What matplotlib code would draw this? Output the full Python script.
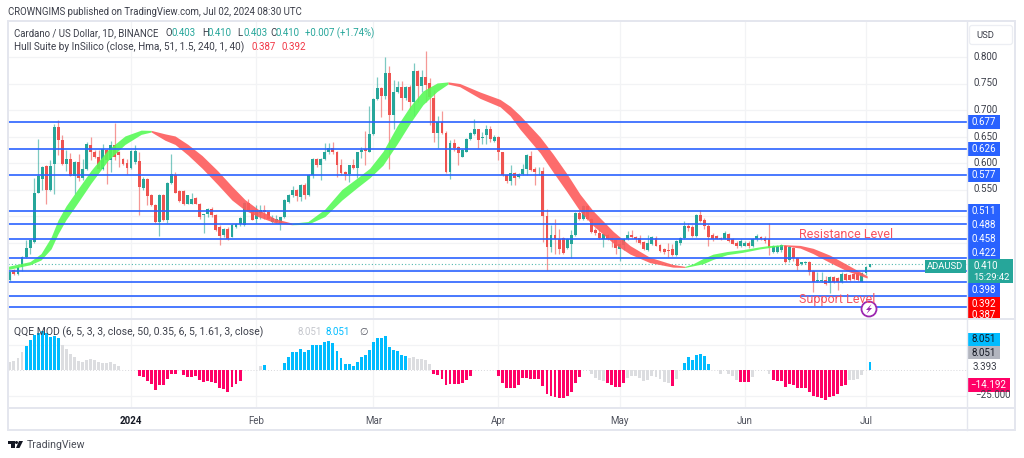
import numpy as np
import matplotlib.pyplot as plt
from matplotlib.patches import Rectangle, FancyBboxPatch, Circle, Polygon

plt.rcParams['font.family'] = ['Roboto', 'DejaVu Sans']

# --- data: daily candles, first bar is 2 Dec 2023 ---
opens = [.380,.398,.391,.404,.423,.439,.451,.544,.569,.594,
         .549,.599,.668,.643,.599,.607,.576,.602,.571,.588,
         .634,.621,.612,.588,.625,.605,.634,.621,.607,.600,
         .590,.601,.604,.552,.569,.539,.520,.489,.539,.492,
         .562,.577,.547,.547,.523,.523,.534,.523,.501,.503,
         .514,.502,.480,.464,.476,.461,.479,.485,.483,.525,
         .511,.495,.505,.512,.508,.489,.489,.486,.498,.527,
         .539,.549,.535,.558,.539,.577,.608,.596,.608,.621,
         .629,.621,.596,.583,.580,.596,.590,.620,.627,.621,
         .654,.720,.742,.727,.770,.691,.734,.744,.722,.744,
         .715,.774,.745,.763,.750,.722,.657,.678,.657,.583,
         .637,.630,.612,.621,.645,.654,.664,.647,.652,.664,
         .642,.649,.620,.578,.566,.581,.573,.580,.588,.613,
         .588,.584,.585,.500,.442,.464,.457,.459,.440,.448,
         .464,.506,.495,.518,.495,.473,.468,.457,.464,.459,
         .454,.437,.445,.456,.465,.461,.459,.451,.435,.448,
         .459,.445,.437,.435,.437,.427,.449,.459,.481,.480,
         .463,.502,.493,.481,.465,.462,.459,.457,.466,.456,
         .449,.444,.444,.449,.443,.456,.460,.459,.456,.433,
         .433,.436,.444,.417,.439,.421,.409,.411,.414,.397,
         .378,.378,.380,.373,.384,.383,.376,.390,.389,.390,
         .392,.376,.392,.403]
highs = [.396,.400,.405,.425,.454,.455,.571,.646,.594,.596,
         .605,.674,.681,.653,.625,.618,.603,.617,.608,.640,
         .649,.624,.625,.635,.627,.642,.676,.623,.610,.607,
         .625,.634,.621,.574,.571,.541,.523,.542,.542,.564,
         .617,.583,.550,.549,.539,.544,.536,.524,.503,.515,
         .517,.504,.483,.477,.479,.484,.486,.498,.527,.533,
         .512,.520,.520,.521,.509,.502,.502,.499,.533,.542,
         .556,.551,.561,.563,.580,.609,.609,.609,.638,.638,
         .640,.622,.607,.585,.597,.608,.621,.630,.660,.707,
         .722,.763,.744,.800,.783,.756,.754,.754,.746,.747,
         .788,.776,.776,.811,.760,.738,.688,.698,.660,.643,
         .646,.633,.626,.647,.658,.683,.665,.658,.671,.669,
         .652,.651,.621,.580,.596,.583,.581,.598,.617,.623,
         .592,.592,.592,.514,.483,.495,.476,.461,.459,.473,
         .508,.510,.520,.520,.497,.478,.475,.468,.466,.461,
         .456,.454,.458,.472,.473,.463,.464,.453,.465,.463,
         .462,.447,.439,.449,.447,.455,.461,.490,.486,.483,
         .503,.511,.496,.484,.468,.465,.461,.471,.468,.459,
         .452,.456,.453,.453,.459,.466,.463,.462,.487,.445,
         .445,.447,.446,.444,.442,.423,.414,.415,.415,.399,
         .394,.394,.386,.386,.386,.384,.394,.392,.391,.392,
         .394,.394,.406,.410]
lows = [.378,.388,.389,.397,.420,.429,.449,.543,.549,.522,
        .547,.542,.615,.596,.585,.575,.542,.566,.568,.586,
        .605,.609,.587,.586,.561,.583,.605,.593,.597,.579,
        .588,.598,.502,.549,.520,.518,.486,.462,.491,.486,
        .561,.543,.527,.521,.522,.522,.522,.495,.468,.499,
        .499,.472,.445,.461,.455,.460,.478,.481,.482,.510,
        .492,.486,.495,.494,.494,.487,.486,.474,.497,.525,
        .536,.529,.529,.533,.537,.571,.593,.568,.606,.617,
        .617,.574,.577,.567,.565,.589,.571,.609,.596,.620,
        .653,.719,.686,.721,.588,.665,.733,.700,.719,.700,
        .688,.715,.734,.715,.671,.640,.629,.655,.582,.569,
        .622,.597,.611,.620,.643,.653,.629,.635,.635,.640,
        .640,.605,.575,.563,.558,.558,.571,.578,.577,.585,
        .558,.577,.451,.398,.432,.429,.428,.428,.438,.420,
        .462,.492,.493,.493,.467,.464,.457,.442,.455,.442,
        .429,.415,.435,.454,.458,.451,.448,.436,.434,.445,
        .443,.432,.429,.423,.425,.424,.446,.456,.471,.461,
        .461,.488,.476,.443,.453,.456,.455,.456,.451,.447,
        .440,.441,.443,.440,.441,.453,.454,.450,.427,.430,
        .430,.432,.411,.414,.416,.399,.408,.409,.389,.356,
        .376,.376,.370,.354,.373,.360,.373,.378,.378,.379,
        .378,.375,.388,.403]
closes = [.395,.390,.404,.423,.440,.454,.544,.576,.593,.549,
          .594,.668,.643,.599,.607,.576,.602,.571,.588,.635,
          .621,.612,.588,.627,.605,.634,.612,.615,.599,.590,
          .622,.622,.555,.569,.537,.520,.489,.539,.492,.562,
          .580,.544,.528,.522,.539,.533,.523,.498,.503,.514,
          .502,.473,.462,.476,.457,.483,.485,.497,.525,.511,
          .493,.511,.512,.508,.495,.497,.495,.498,.531,.539,
          .549,.537,.558,.539,.577,.608,.596,.608,.621,.629,
          .621,.596,.581,.580,.596,.590,.620,.624,.622,.654,
          .720,.742,.727,.770,.691,.734,.744,.722,.744,.715,
          .774,.745,.763,.748,.725,.657,.678,.657,.583,.637,
          .629,.618,.624,.645,.656,.664,.644,.649,.665,.645,
          .649,.621,.578,.566,.581,.571,.580,.588,.615,.586,
          .583,.584,.500,.442,.465,.457,.438,.430,.457,.465,
          .506,.495,.518,.495,.470,.467,.459,.466,.456,.454,
          .439,.448,.456,.465,.461,.456,.449,.437,.449,.461,
          .444,.434,.432,.434,.426,.453,.459,.481,.478,.463,
          .502,.490,.481,.461,.457,.457,.456,.468,.453,.448,
          .443,.453,.449,.444,.457,.462,.457,.453,.440,.444,
          .444,.446,.414,.441,.421,.405,.413,.414,.395,.375,
          .380,.380,.372,.384,.375,.376,.390,.380,.380,.381,
          .380,.392,.403,.410]

# Hull band, read at turning points and along the slopes
hull_days = [-0.5,5,7.7,10.2,11.9,13.9,16.1,20.1,24.3,28.5,32.5,35,
             38.4,40.9,44.1,47.6,51.5,55,58.2,61.4,65.7,69.9,
             73.8,78,82.2,85.9,89.1,92.4,95.9,99.1,102.3,105.8,108.5,
             111.4,116.4,121.4,123.9,126.3,131.3,134.5,138,141.2,144.4,149.4,153.6,158.5,164.2,167.2,
             169.2,171.7,174.1,177.6,181.5,185.8,187.7,191.5,
             195.7,198.9,203.1,207.4,212.3]
hull_mid = [.402,.411,.423,.449,.479,.506,.530,.574,.615,.643,.658,.660,
            .649,.643,.625,.602,.572,.543,.521,.506,.491,.485,
            .487,.506,.540,.562,.581,.609,.653,.691,.723,.743,.751,
            .747,.728,.713,.698,.677,.634,.600,.562,.525,.496,.460,.436,.417,.406,.404,
            .408,.415,.423,.430,.434,.440,.442,.445,
            .442,.434,.419,.402,.385]
hull_gap = [.006,.006,.012,.022,.026,.026,.026,.024,.020,.016,.008,.003,
            .012,.016,.020,.024,.026,.026,.020,.014,.008,.003,
            .005,.014,.020,.018,.018,.026,.034,.032,.026,.016,.004,
            .006,.012,.014,.018,.026,.030,.034,.034,.032,.028,.022,.016,.010,.005,.002,
            .004,.010,.010,.006,.005,.004,.004,.002,
            .005,.010,.014,.012,.004]
hull_turns = [-0.5, 35, 69.9, 108.5, 167.2, 191.5, 212.3]

levels = [.677,.626,.577,.510,.485,.457,.421,.397,.375,.349,.328]
price_ticks = [.800,.750,.700,.650,.600,.550]
price_grid = [.80,.75,.70,.65,.60,.55,.50,.45,.40,.35]
last_price = 0.410

# QQE histogram, one value per candle, 0 where nothing is drawn
qqe_vals = [7.5,9,12,18,24,29,34,36,38,36,
            32,33,31,25,21,16,13,9,8,10,
            11,10,7.5,6.5,7,8,6,4,0,0,
            0,0,-6,-7,-11,-14,-20,-15,-15,-9,
            -4,-3.5,0,-5,-6.5,-6.5,-6,-10,-12,-10.5,
            -12,-13,-18,-19,-22,-17,-14,-10.5,0,0,
            0,0,4,5,0,0,0,0,6.5,13,
            18,18,21,18,20,24.5,24.5,25,27,28.5,
            26,19,12,6,6,4,8,12.5,15,20,
            27,31.5,31.5,33,23,19.5,19,14.5,14,12,
            12.5,11,11,9.5,6,-3.5,-4.5,-8.5,-15,-14,
            -13.5,-13.5,-13,-9.5,-5.5,0,0,0,0,0,
            0,-5.5,-12.5,-17.5,-18,-18,-15,-8,-8,-8.5,
            -8.5,-8.5,-16,-24,-25,-26,-27.5,-27.5,-25,-21.5,
            -13,-7,0,0,-4,-8,-10,-10.5,-13,-14.5,
            -17,-17,-13,-8,-5.5,-6,-8,-11,-9.5,-5.5,
            -7,-8.5,-12,-13,-16,-9,0,7,13,9.5,
            15,15.5,13.5,6,0,0,-4,0,-4,-6,
            -10,-12,-12,-12,-6.5,0,0,0,-3.5,-10,
            -10.5,-11,-17,-14,-15,-18,-18,-18,-21.5,-25,
            -26,-27.5,-29.5,-26.5,-25,-24,-16,-15,-10,-10,
            -9,-5,0,8.051]
qqe_gray = list(range(0,4)) + list(range(13,28)) + [62] + list(range(99,105)) + \
           list(range(144,148)) + list(range(153,164)) + [165,176,178,179,180,184,188] + \
           list(range(208,212))

month_days = [30,61,90,121,151,182,212]
month_names = ['2024','Feb','Mar','Apr','May','Jun','Jul']

# --- figure, everything laid out in pixels of the 1024x458 image ---
W, H = 1024, 458
TEAL, RED = '#26a69a', '#ef5350'
fig = plt.figure(figsize=(W/100, H/100), dpi=100, facecolor='white')

def axes_px(x0, y0, x1, y1):
    a = fig.add_axes([x0/W, 1-y1/H, (x1-x0)/W, (y1-y0)/H])
    a.patch.set_alpha(0)
    return a

ax = axes_px(8, 21, 967, 319)
ax2 = axes_px(8, 319, 967, 408)
day_lim = ((8-9.9)/4.038, (967-9.9)/4.038)

# --- price panel ---
days = np.arange(len(opens))
o, h, l, c = map(np.array, (opens, highs, lows, closes))
up = c >= o
cols = np.where(up, TEAL, RED)
ax.vlines(days, l, h, colors=cols, lw=0.9, alpha=0.6, zorder=2)
ax.bar(days, np.abs(c-o), bottom=np.minimum(o, c), width=0.72, color=cols, zorder=3, linewidth=0)

hd, hm, hg = map(np.array, (hull_days, hull_mid, hull_gap))
for k in range(len(hull_turns)-1):
    m = (hd >= hull_turns[k]) & (hd <= hull_turns[k+1])
    col = '#58fa58' if k % 2 == 0 else '#fd5c5c'
    ax.fill_between(hd[m], hm[m]-hg[m]/2, hm[m]+hg[m]/2, color=col, alpha=0.9, lw=0, zorder=4)

ax.hlines(levels, *day_lim, colors='#2962ff', lw=1.4, alpha=0.85, zorder=5)
ax.axhline(last_price, color=TEAL, lw=0.8, ls=(0, (1, 2)), alpha=0.8, zorder=2)

ax.set_xlim(day_lim)
ax.set_ylim(0.8-(319-57)/530, 0.8+(57-21)/530)
ax.set_xticks(month_days)
ax.set_yticks(price_grid)
ax.grid(True, color='#f2f3f5', lw=0.9, zorder=0)
ax.set_axisbelow(True)
ax.tick_params(length=0, labelbottom=False, labelleft=False)
for s in ax.spines.values():
    s.set_visible(False)

# --- QQE panel ---
qv = np.array(qqe_vals)
qc = np.where(qv > 0, '#00bcff', '#ff0066').astype(object)
qc[qqe_gray] = '#dcdde0'
ax2.bar(np.arange(len(qv)), qv, width=0.72, color=list(qc), linewidth=0, zorder=3)
ax2.axhline(0, color='#d8d8dc', lw=0.7, ls=(0, (1, 2)), zorder=1)
ax2.set_xlim(day_lim)
ax2.set_ylim(-(408-370)/1.02, (370-319)/1.02)
ax2.set_yticks([-25, 25])
ax2.set_xticks(month_days)
ax2.set_xticklabels(month_names, fontsize=7, color='#50535e')
ax2.get_xticklabels()[0].set_fontweight('bold')
ax2.get_xticklabels()[0].set_color('#131722')
ax2.grid(True, color='#f2f3f5', lw=0.9, zorder=0)
ax2.set_axisbelow(True)
ax2.tick_params(length=0, labelleft=False, pad=6)
for s in ax2.spines.values():
    s.set_visible(False)

# --- overlay for frame, labels and badges ---
ov = fig.add_axes([0, 0, 1, 1], zorder=10)
ov.set_xlim(0, W)
ov.set_ylim(H, 0)
ov.axis('off')
ov.patch.set_alpha(0)

frame = '#e4e6ee'
ov.add_patch(Rectangle((8, 21), 1007, 409, fill=False, ec=frame, lw=1.4))
ov.plot([8, 1015], [319, 319], color=frame, lw=1.4)
ov.plot([8, 1015], [408, 408], color=frame, lw=1.4)
ov.plot([967, 967], [21, 430], color=frame, lw=1)

def label(x, y, s, color='#3c3f4a', size=7, ha='left', **kw):
    ov.text(x, y, s, color=color, fontsize=size, ha=ha, va='center', **kw)

def badge(y0, y1, s, face, color='white', x1=1000):
    ov.add_patch(Rectangle((967, y0), x1-967, y1-y0, fc=face, ec='none'))
    label((967+x1)/2, (y0+y1)/2, s, color=color, size=7, ha='center')

label(8, 12, 'CROWNGIMS published on TradingView.com, Jul 02, 2024 08:30 UTC', size=6.95)

label(14, 33, 'Cardano / US Dollar, 1D, BINANCE', size=6.95)
for x, s in zip([166, 202, 237, 270], 'OHLC'):
    label(x, 33, s, size=6.95)
for x, s in zip([172, 208, 243, 276], ['0.403', '0.410', '0.403', '0.410']):
    label(x, 33, s, color=TEAL, size=6.95)
label(305, 33, '+0.007 (+1.74%)', color=TEAL, size=6.95)
label(14, 47, 'Hull Suite by InSilico (close, Hma, 51, 1.5, 240, 1, 40)', size=7.2)
label(252, 47, '0.387', color='#f23645', size=7)
label(281, 47, '0.392', color='#f23645', size=7)

label(14, 332, 'QQE MOD (6, 5, 3, 3, close, 50, 0.35, 6, 5, 1.61, 3, close)', size=7.45)
label(297, 332, '8.051', color='#c4c6cc', size=7)
label(326, 332, '8.051', color='#00bcff', size=7)
label(359, 332, '∅', color='#50535e', size=7)

ov.add_patch(FancyBboxPatch((971, 27), 40, 16, boxstyle='round,pad=1.5,rounding_size=2.5',
                            fc='white', ec='#eceef3', lw=0.9))
label(985, 35, 'USD', size=6.8, ha='center')
for p in price_ticks:
    label(973, 57+(0.8-p)*530, f'{p:.3f}', color='#3c3f4a', size=7)

for y0, y1, s in [(115, 129, '0.677'), (142, 156, '0.626'), (168, 182, '0.577'),
                  (204, 218, '0.511'), (218, 232, '0.488'), (232, 246, '0.458'),
                  (246, 259, '0.422'), (283, 297, '0.398')]:
    badge(y0, y1, s, '#2962ff')
badge(297, 311, '0.392', '#ff0000')
badge(311, 319, '0.387', '#ff0000')

# last price tag
ov.add_patch(Rectangle((925, 260), 41, 13, fc=TEAL, ec='none'))
label(945.5, 266.5, 'ADAUSD', color='white', size=6.8, ha='center')
ov.add_patch(Rectangle((967, 259), 46, 24, fc=TEAL, ec='none'))
label(973, 266, '0.410', color='white', size=7)
label(973, 277, '15:29:42', color='white', size=6.8)

# QQE scale
badge(333, 346, '8.051', '#00bcff', color='#131722')
badge(346, 359, '8.051', '#b2b5be', color='#131722')
label(973, 367, '3.393', size=7)
badge(378, 392, '−14.192', '#ff0066', x1=1010)
label(975, 395, '−25.000', size=7)

# drawn notes on the chart
label(799, 234, 'Resistance Level', color='#f7525f', size=9)
label(799, 299, 'Support Level', color='#f7525f', size=9)
ov.add_patch(Circle((869, 309), 7.5, fc='white', ec='#9c27b0', lw=1.3))
ov.add_patch(Polygon([(871.5, 304), (866, 310), (868.7, 310), (866.5, 314), (872, 308), (869.3, 308)],
                     fc='#9c27b0', ec='none'))

# TradingView mark
ov.add_patch(Rectangle((8, 441), 7, 2.5, fc='#131722', ec='none'))
ov.add_patch(Rectangle((11, 441), 3.5, 7, fc='#131722', ec='none'))
ov.add_patch(Circle((16.5, 442.5), 1.5, fc='#131722', ec='none'))
ov.add_patch(Polygon([(19, 441), (23, 441), (19.5, 448), (16, 448)], fc='#131722', ec='none'))
label(27, 444.5, 'TradingView', color='#4a4d57', size=7.6)

fig.savefig('out.png', dpi=100, facecolor='white')
